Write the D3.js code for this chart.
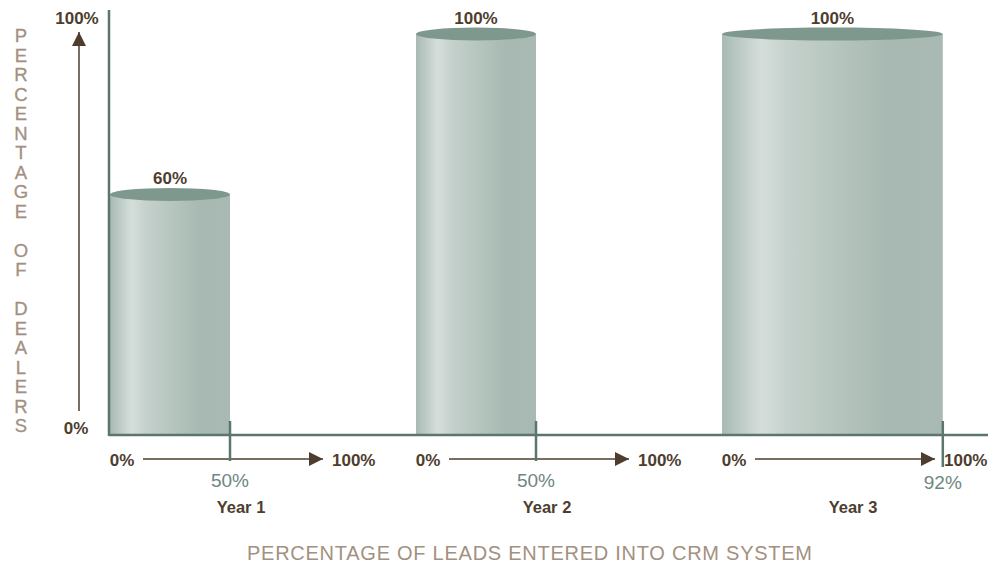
<!DOCTYPE html>
<html lang="en">
<head>
<meta charset="utf-8">
<title>CRM leads by year</title>
<style>
  body { margin: 0; background: #fff; }
  text { font-family: "Liberation Sans", Arial, sans-serif; }
</style>
</head>
<body>
<svg id="chart" width="1003" height="565"></svg>
<script src="https://cdn.jsdelivr.net/npm/d3@7"></script>
<script>
const years = ["Year 1", "Year 2", "Year 3"];
const dealerPct = [60, 100, 100];   // cylinder height
const leadPct = [50, 50, 92];       // cylinder width
const yTitle = "PERCENTAGE OF DEALERS";
const xTitle = "PERCENTAGE OF LEADS ENTERED INTO CRM SYSTEM";

const brown = "#4e3d2e";
const lightBrown = "#a39080";
const axisCol = "#5b766d";

const svg = d3.select("#chart");

const defs = svg.append("defs");
const grad = defs.append("linearGradient").attr("id", "cyl").attr("x1", 0).attr("x2", 1).attr("y1", 0).attr("y2", 0);
[[0, "#a8bab3"], [0.18, "#d6dedb"], [0.3, "#c5d1cc"], [0.55, "#b4c4bd"], [0.75, "#a7b9b2"], [1, "#a9b9b3"]]
  .forEach(s => grad.append("stop").attr("offset", s[0]).attr("stop-color", s[1]));

const marker = defs.append("marker").attr("id", "arrow").attr("viewBox", "0 0 10 10")
  .attr("refX", 10).attr("refY", 5).attr("markerWidth", 14).attr("markerHeight", 14)
  .attr("markerUnits", "userSpaceOnUse").attr("orient", "auto");
marker.append("path").attr("d", "M0,0 L10,5 L0,10 Z").attr("fill", brown);

const band = d3.scaleBand().domain(years).range([110, 1028]).padding(0);
const y = d3.scaleLinear().domain([0, 100]).range([435, 34]);
const panelX = yr => d3.scaleLinear().domain([0, 100]).range([band(yr), band(yr) + 240]);

// cylinders
years.forEach((yr, i) => {
  const x = panelX(yr);
  const x0 = x(0), x1 = x(leadPct[i]);
  const top = y(dealerPct[i]);
  const cx = (x0 + x1) / 2, rx = (x1 - x0) / 2;
  svg.append("rect").attr("x", x0).attr("y", top).attr("width", x1 - x0).attr("height", y(0) - top)
    .attr("fill", "url(#cyl)");
  svg.append("ellipse").attr("cx", cx).attr("cy", top).attr("rx", rx).attr("ry", 6.5).attr("fill", "#7e988e");
  svg.append("text").attr("x", cx).attr("y", top - 10).attr("text-anchor", "middle")
    .attr("font-size", 17).attr("font-weight", "bold").attr("fill", brown).text(dealerPct[i] + "%");
});

// main axes
svg.append("line").attr("x1", 109).attr("x2", 109).attr("y1", 10).attr("y2", y(0) + 1)
  .attr("stroke", axisCol).attr("stroke-width", 2.5);
svg.append("line").attr("x1", 109).attr("x2", 988).attr("y1", y(0)).attr("y2", y(0))
  .attr("stroke", axisCol).attr("stroke-width", 2.5);

// y arrow
svg.append("line").attr("x1", 79).attr("x2", 79).attr("y1", 411).attr("y2", 32)
  .attr("stroke", brown).attr("stroke-width", 1.5).attr("marker-end", "url(#arrow)");
svg.append("text").attr("x", 77).attr("y", 24).attr("text-anchor", "middle")
  .attr("font-size", 17).attr("font-weight", "bold").attr("fill", brown).text("100%");
svg.append("text").attr("x", 76).attr("y", 434).attr("text-anchor", "middle")
  .attr("font-size", 17).attr("font-weight", "bold").attr("fill", brown).text("0%");

// y title, stacked letters
const letters = yTitle.split("");
const ly = d3.scaleLinear().domain([0, letters.length - 1]).range([42, 432]);
svg.append("g").selectAll("text").data(letters).join("text")
  .attr("x", 21).attr("y", (d, i) => ly(i)).attr("text-anchor", "middle")
  .attr("font-size", 18.5).attr("fill", lightBrown).attr("stroke", lightBrown).attr("stroke-width", 0.3)
  .text(d => d);

// per-panel x axes
years.forEach((yr, i) => {
  const x = panelX(yr);
  const x0 = band(yr);
  const g = svg.append("g");
  g.append("text").attr("x", x0 + 12).attr("y", 466).attr("text-anchor", "middle")
    .attr("font-size", 17).attr("font-weight", "bold").attr("fill", brown).text("0%");
  g.append("line").attr("x1", x0 + 33).attr("x2", x0 + 213).attr("y1", 459).attr("y2", 459)
    .attr("stroke", brown).attr("stroke-width", 1.5).attr("marker-end", "url(#arrow)");
  g.append("text").attr("x", x0 + 222).attr("y", 466).attr("text-anchor", "start")
    .attr("font-size", 17).attr("font-weight", "bold").attr("fill", brown).text("100%");
  const tx = x(leadPct[i]);
  g.append("line").attr("x1", tx).attr("x2", tx).attr("y1", 421).attr("y2", i === 2 ? 467 : 461)
    .attr("stroke", axisCol).attr("stroke-width", 2.5);
  g.append("text").attr("x", tx).attr("y", i === 2 ? 489 : 487).attr("text-anchor", "middle")
    .attr("font-size", 19).attr("fill", "#6d8781").text(leadPct[i] + "%");
  g.append("text").attr("x", x0 + 131).attr("y", 513).attr("text-anchor", "middle")
    .attr("font-size", 16.5).attr("font-weight", "bold").attr("fill", brown).text(yr);
});

svg.append("text").attr("x", 247).attr("y", 560).attr("text-anchor", "start")
  .attr("font-size", 20).attr("fill", lightBrown)
  .attr("textLength", 565).attr("lengthAdjust", "spacing").text(xTitle);
</script>
</body>
</html>
